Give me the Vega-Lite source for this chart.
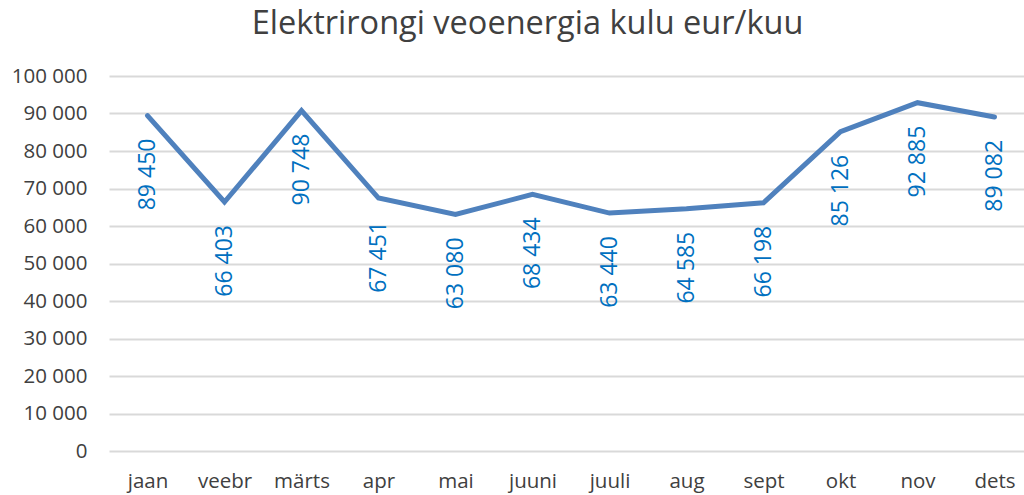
{
  "$schema": "https://vega.github.io/schema/vega-lite/v6.json",
  "autosize": {"type": "none"},
  "width": 915,
  "height": 375,
  "padding": {"left": 109, "top": 76, "right": 0, "bottom": 44},
  "background": "white",
  "title": {
    "text": "Elektrirongi veoenergia kulu eur/kuu",
    "font": "Open Sans",
    "fontSize": 32.5,
    "fontWeight": "normal",
    "color": "#404040",
    "anchor": "middle",
    "frame": "group",
    "dx": -39,
    "offset": 26
  },
  "data": {
    "values": [
      {"kuu": "jaan", "kulu": 89450},
      {"kuu": "veebr", "kulu": 66403},
      {"kuu": "märts", "kulu": 90748},
      {"kuu": "apr", "kulu": 67451},
      {"kuu": "mai", "kulu": 63080},
      {"kuu": "juuni", "kulu": 68434},
      {"kuu": "juuli", "kulu": 63440},
      {"kuu": "aug", "kulu": 64585},
      {"kuu": "sept", "kulu": 66198},
      {"kuu": "okt", "kulu": 85126},
      {"kuu": "nov", "kulu": 92885},
      {"kuu": "dets", "kulu": 89082}
    ]
  },
  "config": {
    "locale": {
      "number": {"decimal": ",", "thousands": " ", "grouping": [3], "currency": ["", " €"]}
    },
    "view": {"stroke": null},
    "axis": {"labelFont": "Open Sans", "labelColor": "#404040", "labelFontSize": 20.5}
  },
  "encoding": {
    "x": {
      "field": "kuu",
      "type": "nominal",
      "sort": null,
      "scale": {"range": [0, 924], "paddingInner": 0, "paddingOuter": 0},
      "axis": {"title": null, "labelAngle": 0, "ticks": false, "domain": false, "grid": false, "labelPadding": 20}
    },
    "y": {
      "field": "kulu",
      "type": "quantitative",
      "scale": {"domain": [0, 100000], "nice": false},
      "axis": {
        "title": null,
        "values": [0, 10000, 20000, 30000, 40000, 50000, 60000, 70000, 80000, 90000, 100000],
        "format": ",.0f",
        "ticks": false,
        "domain": false,
        "gridColor": "#d9d9d9",
        "gridWidth": 2,
        "labelPadding": 22
      }
    }
  },
  "layer": [
    {
      "mark": {"type": "line", "color": "#4f81bd", "strokeWidth": 5, "strokeJoin": "miter", "strokeCap": "round"}
    },
    {
      "mark": {
        "type": "text",
        "angle": 270,
        "align": "right",
        "baseline": "middle",
        "dx": -23,
        "font": "Open Sans",
        "fontSize": 23,
        "color": "#0070c0"
      },
      "encoding": {
        "text": {"field": "kulu", "type": "quantitative", "format": ","}
      }
    }
  ]
}
